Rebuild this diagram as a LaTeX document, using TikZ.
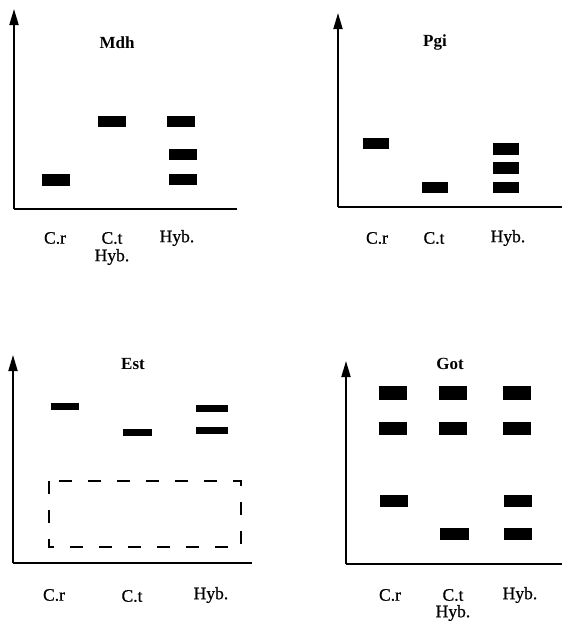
\documentclass[tikz,border=0pt]{standalone}
\usepackage{fontspec}
\setmainfont{Liberation Serif}
\newfontfamily\labfont{Liberation Serif}[FakeBold=0.7]
\usetikzlibrary{arrows.meta}
\tikzset{
  axis/.style={line width=1.8pt, -{Triangle[length=16pt,width=9pt]}},
  xaxis/.style={line width=1.8pt},
  band/.style={fill=black},
  lab/.style={font=\labfont\fontsize{17.5}{18}\selectfont, inner sep=0pt},
  ttl/.style={font=\fontsize{17}{18}\selectfont\bfseries, inner sep=0pt},
  well/.style={line width=1.6pt, dash pattern=on 13pt off 16pt}
}
\begin{document}
\begin{tikzpicture}[x=1pt,y=-1pt]
\useasboundingbox (0,0) rectangle (563,622);

% ---------- Mdh ----------
\coordinate (m0) at (14,209);
\coordinate (mtop) at (14,9);
\coordinate (mend) at (237,209);
\draw[axis] (m0) -- (mtop);
\draw[xaxis] (m0) -- (mend);
\node[ttl] (mt) at (117,43) {Mdh};
\fill[band] (42,174) rectangle (70,186);
\fill[band] (98,116) rectangle (126,127);
\fill[band] (167,116) rectangle (195,127);
\fill[band] (169,149) rectangle (197,160);
\fill[band] (169,174) rectangle (197,185);
\node[lab] (mcr) at (55,238) {C.r};
\node[lab] (mct) at (112,238) {C.t};
\node[lab] (mct2) at (112,257) {Hyb.};
\node[lab] (mhy) at (177,238) {Hyb.};

% ---------- Pgi ----------
\coordinate (p0) at (338,207);
\coordinate (ptop) at (338,13);
\coordinate (pend) at (562,207);
\draw[axis] (p0) -- (ptop);
\draw[xaxis] (p0) -- (pend);
\node[ttl] (pt) at (435,42) {Pgi};
\fill[band] (363,138) rectangle (389,149);
\fill[band] (422,182) rectangle (448,193);
\fill[band] (493,143) rectangle (519,155);
\fill[band] (493,162) rectangle (519,174);
\fill[band] (493,182) rectangle (519,193);
\node[lab] (pcr) at (377,238) {C.r};
\node[lab] (pct) at (434,238) {C.t};
\node[lab] (phy) at (508,238) {Hyb.};

% ---------- Est ----------
\coordinate (e0) at (13,563);
\coordinate (etop) at (13,355);
\coordinate (eend) at (252,563);
\draw[axis] (e0) -- (etop);
\draw[xaxis] (e0) -- (eend);
\node[ttl] (et) at (133,364) {Est};
\fill[band] (51,403) rectangle (79,410);
\fill[band] (123,429) rectangle (152,436);
\fill[band] (196,405) rectangle (228,412);
\fill[band] (196,427) rectangle (228,434);
\draw[well] (49,481) rectangle (241,547);
\node[lab] (ecr) at (54,595) {C.r};
\node[lab] (ect) at (132,596) {C.t};
\node[lab] (ehy) at (211,595) {Hyb.};

% ---------- Got ----------
\coordinate (g0) at (346,564);
\coordinate (gtop) at (346,361);
\coordinate (gend) at (562,564);
\draw[axis] (g0) -- (gtop);
\draw[xaxis] (g0) -- (gend);
\node[ttl] (gt) at (450,364) {Got};
\fill[band] (379,386) rectangle (407,400);
\fill[band] (439,386) rectangle (467,400);
\fill[band] (503,386) rectangle (531,400);
\fill[band] (379,422) rectangle (407,435);
\fill[band] (439,422) rectangle (467,435);
\fill[band] (503,422) rectangle (531,435);
\fill[band] (380,495) rectangle (408,507);
\fill[band] (504,495) rectangle (532,507);
\fill[band] (440,528) rectangle (469,540);
\fill[band] (504,528) rectangle (532,540);
\node[lab] (gcr) at (390,595) {C.r};
\node[lab] (gct) at (453,595) {C.t};
\node[lab] (gct2) at (453,613) {Hyb.};
\node[lab] (ghy) at (520,595) {Hyb.};
\end{tikzpicture}
\end{document}
